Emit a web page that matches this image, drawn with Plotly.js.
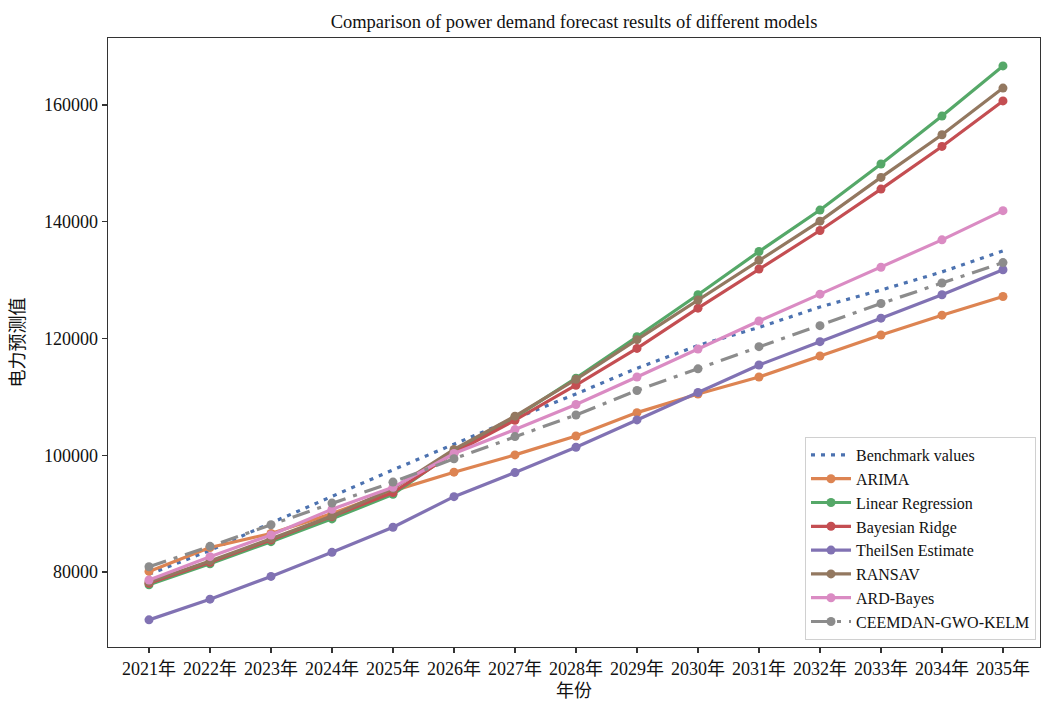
<!DOCTYPE html>
<html>
<head>
<meta charset="utf-8">
<script src="https://cdn.plot.ly/plotly-3.0.1.min.js"></script>
<style>html,body{margin:0;padding:0;background:#fff;}#chart{width:1042px;height:701px;}</style>
</head>
<body>
<div id="chart"></div>
<script>
const years = ["2021年","2022年","2023年","2024年","2025年","2026年","2027年","2028年","2029年","2030年","2031年","2032年","2033年","2034年","2035年"];
const benchmark = [79600, 83700, 88400, 93000, 97500, 101900, 106300, 110500, 114900, 118800, 121900, 125400, 128300, 131400, 135000];
const arima = [80100, 84200, 86600, 90000, 93900, 97100, 100060, 103300, 107300, 110500, 113400, 117000, 120600, 124000, 127200];
const linearRegression = [77800, 81400, 85200, 89100, 93300, 100600, 106500, 113200, 120300, 127500, 134900, 142000, 149900, 158100, 166700];
const bayesianRidge = [78060, 81660, 85500, 89480, 93600, 100400, 106000, 112000, 118300, 125200, 131900, 138500, 145600, 152900, 160700];
const theilSen = [71800, 75350, 79250, 83370, 87660, 92910, 97030, 101370, 106050, 110740, 115460, 119460, 123490, 127490, 131770];
const ransav = [78300, 81900, 85700, 89600, 94300, 101000, 106700, 113000, 119800, 126600, 133400, 140100, 147600, 154900, 162900];
const ardBayes = [78630, 82630, 86340, 90740, 94500, 100300, 104400, 108700, 113400, 118200, 123000, 127600, 132200, 136900, 141900];
const ceemdan = [80900, 84400, 88100, 91800, 95400, 99400, 103200, 106900, 111100, 114800, 118600, 122200, 126000, 129500, 133000];

const names = ["Benchmark values","ARIMA","Linear Regression","Bayesian Ridge","TheilSen Estimate","RANSAV","ARD-Bayes","CEEMDAN-GWO-KELM"];
const series = [benchmark, arima, linearRegression, bayesianRidge, theilSen, ransav, ardBayes, ceemdan];
const colors = ["#4C72B0","#DD8452","#55A868","#C44E52","#8172B3","#937860","#DA8BC3","#8C8C8C"];

const serif = "'Liberation Serif', 'Times New Roman', 'Noto Sans CJK SC', serif";

const traces = series.map((vals, i) => {
  const t = {
    x: years, y: vals, name: names[i], type: "scatter",
    line: {color: colors[i], width: 3.2}
  };
  if (i === 0) {
    t.mode = "lines";
    t.line.dash = "4px,6px";
  } else {
    t.mode = "lines+markers";
    t.marker = {size: 9, color: colors[i]};
    if (i === 7) t.line.dash = "18px,8px,4px,8px";
  }
  return t;
});

const layout = {
  width: 1042, height: 701,
  margin: {l: 108, r: 2, t: 38, b: 54},
  paper_bgcolor: "#fff", plot_bgcolor: "#fff",
  font: {family: serif, size: 18, color: "#111"},
  title: {text: "Comparison of power demand forecast results of different models", font: {family: serif, size: 18.5, color: "#111"}, x: 0.5, xref: "paper", y: 0.97, yanchor: "middle"},
  xaxis: {
    type: "category", range: [-0.672, 14.607],
    showline: true, linecolor: "#333", linewidth: 1.3, mirror: true,
    ticks: "outside", ticklen: 5, tickcolor: "#333", tickwidth: 1.2,
    showgrid: false, zeroline: false,
    tickfont: {family: serif, size: 18, color: "#111"},
    title: {text: "年份", font: {family: serif, size: 18, color: "#111"}, standoff: 6}
  },
  yaxis: {
    range: [67152, 171477],
    tickvals: [80000, 100000, 120000, 140000, 160000],
    ticktext: ["80000","100000","120000","140000","160000"],
    showline: true, linecolor: "#333", linewidth: 1.3, mirror: true,
    ticks: "outside", ticklen: 5, tickcolor: "#333", tickwidth: 1.2,
    showgrid: false, zeroline: false,
    tickfont: {family: serif, size: 18, color: "#111"},
    title: {text: "电力预测值", font: {family: serif, size: 18, color: "#111"}, standoff: 14}
  },
  legend: {
    x: 0.9957, xanchor: "right", y: 0.0115, yanchor: "bottom",
    bgcolor: "#fff", bordercolor: "#d0d0d0", borderwidth: 1,
    font: {family: serif, size: 16, color: "#111"},
    itemwidth: 40
  },
  showlegend: true
};

Plotly.newPlot("chart", traces, layout, {displayModeBar: false, staticPlot: true});
</script>
</body>
</html>
